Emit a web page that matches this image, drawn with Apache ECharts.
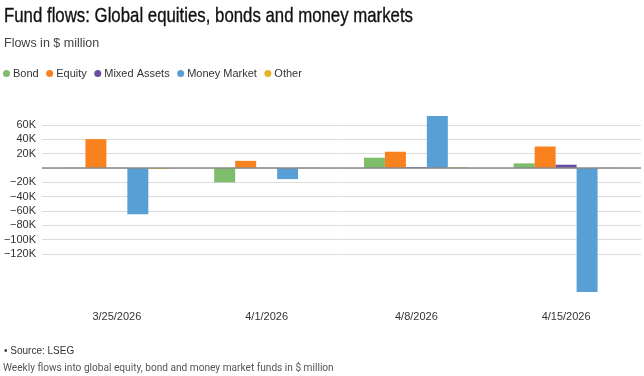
<!DOCTYPE html>
<html>
<head>
<meta charset="utf-8">
<script src="https://cdn.jsdelivr.net/npm/echarts@6/dist/echarts.min.js"></script>
<style>
html,body{margin:0;padding:0;background:#fff;}
#chart{width:644px;height:376px;}
</style>
</head>
<body>
<div id="chart"></div>
<script>
const categories = ['3/25/2026', '4/1/2026', '4/8/2026', '4/15/2026'];
const bond = [300, -20000, 14400, 6500];
const equity = [40300, 10000, 22700, 30000];
const mixedAssets = [200, 200, 1200, 4600];
const moneyMarket = [-64700, -15500, 72500, -173000];
const other = [-1500, 200, 800, 200];
const seriesNames = ['Bond', 'Equity', 'Mixed Assets', 'Money Market', 'Other'];
const seriesData = [bond, equity, mixedAssets, moneyMarket, other];
const colors = ['#7dbd6b', '#f9821f', '#6a4ea3', '#589fd6', '#e5b426'];
const titleText = 'Fund flows: Global equities, bonds and money markets';

const chart = echarts.init(document.getElementById('chart'), null, {renderer: 'canvas'});
const font = '"Liberation Sans", Arial, sans-serif';

const series = seriesNames.map((name, i) => {
  const s = {
    name: name,
    type: 'bar',
    data: seriesData[i],
    clip: false,
    barGap: '0%',
    barCategoryGap: '30%',
    itemStyle: {color: colors[i]}
  };
  if (i === 0) {
    s.markLine = {
      silent: true,
      symbol: ['none', 'none'],
      label: {show: false},
      lineStyle: {color: '#8a8a8a', width: 1.5, type: 'solid'},
      data: [{yAxis: 0}]
    };
  }
  return s;
});

chart.setOption({
  animation: false,
  color: colors,
  textStyle: {fontFamily: font},
  graphic: [{
    type: 'text', x: 4, y: 6, scaleX: 0.8, silent: true,
    style: {
      text: titleText, font: '21px "Liberation Sans", Arial, sans-serif',
      fill: '#111', stroke: '#111', lineWidth: 0.35,
      textVerticalAlign: 'top', verticalAlign: 'top'
    }
  }],
  title: [
    {text: 'Flows in $ million', left: 4, top: 37, padding: 0,
     textStyle: {fontSize: 12.5, fontWeight: 'normal', color: '#444', fontFamily: font}},
    {text: '• Source: LSEG', left: 4, top: 346, padding: 0,
     textStyle: {fontSize: 10, fontWeight: 'normal', color: '#333', fontFamily: font}},
    {text: 'Weekly flows into global equity, bond and money market funds in $ million', left: 3, top: 363, padding: 0,
     textStyle: {fontSize: 10.15, fontWeight: 'normal', color: '#555', fontFamily: 'Roboto, ' + font}}
  ],
  legend: {
    left: 3, top: 68, padding: 0,
    icon: 'circle', itemWidth: 7, itemHeight: 7, itemGap: 7.5,
    textStyle: {fontSize: 11, color: '#333', padding: [0, 0, 0, -2]},
    data: seriesNames
  },
  grid: {left: 42, right: 3, top: 125, bottom: 122, containLabel: false},
  xAxis: {
    type: 'category',
    data: categories,
    axisLine: {show: false},
    axisTick: {show: false},
    axisLabel: {margin: 57, fontSize: 11, color: '#333'}
  },
  yAxis: {
    type: 'value',
    min: -120000, max: 60000, interval: 20000,
    axisLine: {show: false},
    axisTick: {show: false},
    splitLine: {lineStyle: {color: '#dcdcdc', width: 1}},
    axisLabel: {
      margin: 6, fontSize: 11, color: '#333',
      formatter: function (v) {
        if (v === 0) return '';
        const k = Math.abs(v) / 1000;
        return (v < 0 ? '\u2212' : '') + k + 'K';
      }
    }
  },
  series: series
});
</script>
</body>
</html>
